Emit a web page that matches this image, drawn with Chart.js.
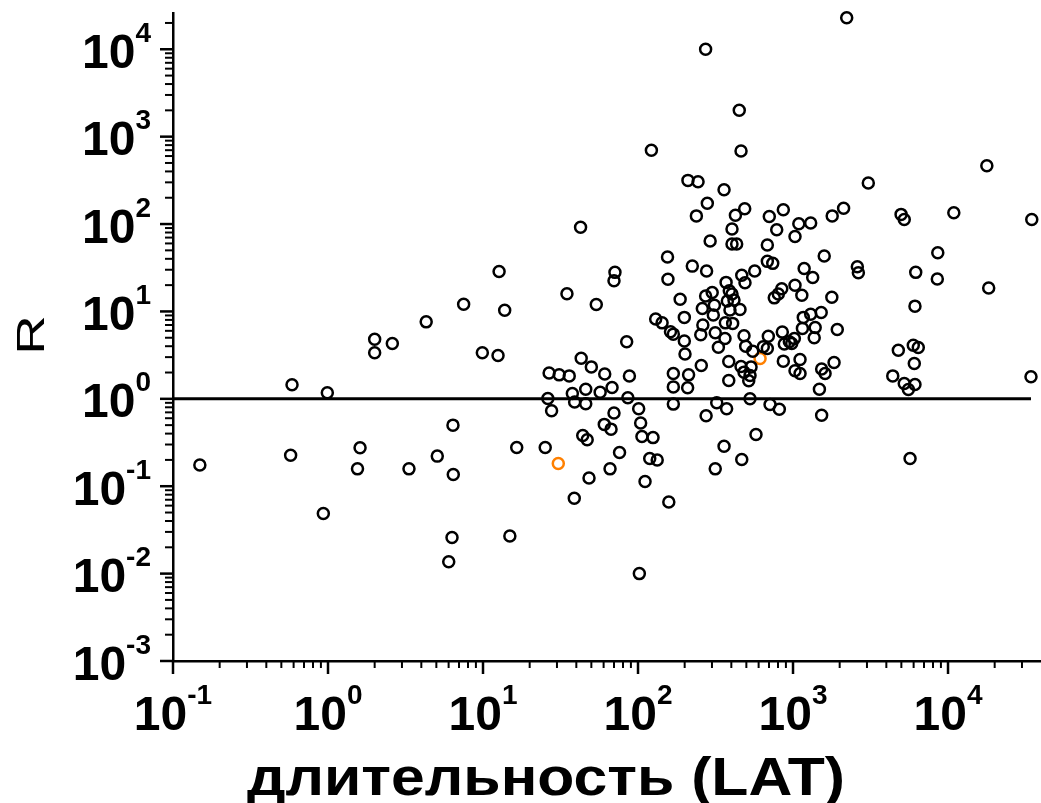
<!DOCTYPE html>
<html>
<head>
<meta charset="utf-8">
<script src="https://cdn.jsdelivr.net/npm/chart.js@4"></script>
<style>
  html, body { margin: 0; padding: 0; background: #fff; }
</style>
</head>
<body>
<canvas id="chart" width="1041" height="803"></canvas>
<script>
// [LAT, R] pairs
const blackPoints = [
  [273,10000],[450,2000],[122,700],[462,685],[210,316],[244,305],[359,247],[280,173],
  [238,124],[425,126],[488,150],[404,88],[42.6,92],[2220,23000],[17800,465],[3060,295],
  [703,122],[866,146],[785,86],[1090,101],[1300,103],[1790,124],[2120,152],[4980,129],
  [5220,113],[10900,135],[34700,113],
  [292,64],[404,59],[433,59],[12.7,28.7],[155,42],[224,33],[277,29],[71,28],[70,22.4],
  [156,23.3],[467,26],[490,21.3],[566,29],[7.5,12.1],[13.8,10.3],[34.8,15.9],[53.8,12],
  [187,13.8],[199,8.55],[130,8.2],[143,7.4],[162,5.85],[169,5.5],[199,4.6],[201,3.25],
  [84.5,4.5],[9.9,3.36],[12.5,3.14],[260,10.8],[273,15],[301,16.5],[311,11.8],[306,9.1],
  [370,21.5],[388,17.2],[404,15.8],[416,13.5],[377,13.2],[392,10.4],[455,10.5],[366,7.4],
  [408,7.3],[262,7.0],[254,5.4],[315,5.7],[364,4.9],[330,3.9],[483,5.26],[495,4.0],
  [550,3.5],[385,2.68],[462,2.35],[483,2.02],[536,2.32],[518,1.61],[528,1.85],[385,1.62],
  [256,2.41],[169,1.95],[212,1.88],[169,1.37],[209,1.34],[88,1.82],[61,1.92],[68,1.35],
  [57,1.19],[46,1.29],[43,2.92],[50,2.32],[26.7,1.97],[31,1.88],[36,1.83],[37.7,1.15],
  [39,0.92],[46,0.88],[26.2,1.01],[27.7,0.73],[70,0.69],[86,1.03],[101,0.77],[104,0.53],
  [106,0.37],[125,0.36],[60.6,0.51],[67,0.45],[44,0.38],[47,0.34],[169,0.87],[322,0.9],
  [373,0.77],[275,0.64],[528,1.0],[577,0.39],
  [4.3,7.6],[2.0,4.8],[2.0,3.36],[2.6,4.3],[0.586,1.45],[0.99,1.17],[6.4,0.5],
  [1030,72],[683,57.5],[1590,43],[683,37.4],[740,35.5],[1180,31],[1340,24.5],[2600,32.4],
  [2640,27.7],[8590,47],[6190,28],[8530,23.5],[18300,18.5],[1030,19.9],[846,18.2],[804,15.8],
  [757,14.3],[1140,15.3],[1780,14.5],[6120,11.5],[1165,8.55],[1300,9.3],[1520,9.75],[1150,6.4],
  [1390,6.56],[1370,5.0],[1930,6.2],[693,5.2],[853,5.8],[879,4.23],[947,4.5],[1020,4.9],
  [981,4.3],[643,3.94],[683,3.77],[866,2.7],[1110,2.82],[1030,2.09],[1110,1.95],[1530,2.2],
  [1610,1.95],[1840,2.61],[1480,1.29],[711,0.86],[816,0.76],[1530,0.65],[4780,3.6],[5970,4.1],
  [6430,3.87],[6060,2.54],[4400,1.83],[5220,1.5],[5550,1.28],[6120,1.46],[34300,1.79],
  [0.149,0.175],[0.574,0.226],[1.61,0.275],[1.55,0.158],[0.933,0.0488],[3.33,0.158],
  [5.07,0.221],[6.43,0.136],[6.31,0.0259],[6.01,0.0137],
  [16.5,0.277],[25.2,0.277],[48.3,0.124],[38.8,0.073],[66,0.158],[76,0.243],[119,0.208],
  [133,0.199],[111,0.113],[158,0.066],[14.9,0.027],[102,0.0100],[359,0.287],[315,0.158],
  [467,0.202],[5690,0.208]
];
const orangePoints = [[613,2.9],[30.6,0.182]];
const refLine = [[0.1,1],[34300,1]];

const xTickExps = [-1, 0, 1, 2, 3, 4];
const yTickExps = [-3, -2, -1, 0, 1, 2, 3, 4];
const xTitle = 'длительность (LAT)';
const yTitle = 'R';

const FONT = '"Liberation Sans", Arial, sans-serif';
const toXY = arr => arr.map(([x, y]) => ({x, y}));

function drawPower(ctx, exp, px, baseline, align) {
  ctx.font = 'bold 48px ' + FONT;
  const wb = ctx.measureText('10').width;
  ctx.font = 'bold 28px ' + FONT;
  const we = ctx.measureText(String(exp)).width;
  const left = align === 'right' ? px - wb - we : px - (wb + we) / 2;
  ctx.font = 'bold 48px ' + FONT;
  ctx.fillText('10', left, baseline);
  ctx.font = 'bold 28px ' + FONT;
  ctx.fillText(String(exp), left + wb, baseline - 26);
}

const axisDecor = {
  id: 'axisDecor',
  afterDraw(chart) {
    const {ctx, chartArea: a, scales: {x, y}} = chart;
    ctx.save();
    ctx.strokeStyle = '#000';
    ctx.fillStyle = '#000';
    ctx.textAlign = 'left';
    ctx.textBaseline = 'alphabetic';

    // y ticks, pointing out
    yTickExps.forEach(e => {
      for (let k = 1; k <= 9; k++) {
        const v = k * Math.pow(10, e);
        if (v > y.max) break;
        const py = y.getPixelForValue(v);
        const len = k === 1 ? 13 : 8;
        ctx.lineWidth = k === 1 ? 2.5 : 2;
        ctx.beginPath(); ctx.moveTo(a.left - len, py); ctx.lineTo(a.left, py); ctx.stroke();
      }
      drawPower(ctx, e, 151, y.getPixelForValue(Math.pow(10, e)) + 18.5, 'right');
    });

    // x ticks
    xTickExps.forEach(e => {
      for (let k = 1; k <= 9; k++) {
        const v = k * Math.pow(10, e);
        if (v > x.max) break;
        const px = x.getPixelForValue(v);
        const len = k === 1 ? 13 : 7;
        ctx.lineWidth = k === 1 ? 2.5 : 2;
        ctx.beginPath(); ctx.moveTo(px, a.bottom); ctx.lineTo(px, a.bottom + len); ctx.stroke();
      }
      drawPower(ctx, e, x.getPixelForValue(Math.pow(10, e)), 730, 'center');
    });

    // x title
    ctx.font = 'bold 54px ' + FONT;
    const tw = ctx.measureText(xTitle).width;
    ctx.save();
    ctx.translate(546, 795);
    ctx.scale(598 / tw, 1);
    ctx.textAlign = 'center';
    ctx.fillText(xTitle, 0, 0);
    ctx.restore();

    // y title
    ctx.save();
    ctx.font = '39px ' + FONT;
    ctx.translate(30, 335);
    ctx.rotate(-Math.PI / 2);
    ctx.scale(1.4, 1);
    ctx.textAlign = 'center';
    ctx.fillText(yTitle, 0, 14);
    ctx.restore();

    ctx.restore();
  }
};

new Chart(document.getElementById('chart'), {
  type: 'scatter',
  data: {
    datasets: [
      { data: toXY(blackPoints), borderColor: '#000', backgroundColor: 'rgba(0,0,0,0)',
        pointRadius: 5.5, borderWidth: 2.5, order: 1, clip: false },
      { data: toXY(orangePoints), borderColor: '#ff8000', backgroundColor: 'rgba(0,0,0,0)',
        pointRadius: 5.5, borderWidth: 2.5, order: 2, clip: false },
      { type: 'line', data: toXY(refLine), borderColor: '#000', borderWidth: 3,
        pointRadius: 0, order: 3 }
    ]
  },
  options: {
    animation: false, responsive: false, maintainAspectRatio: false,
    layout: { autoPadding: false, padding: { top: 13, right: 0, left: 0, bottom: 0 } },
    plugins: { legend: { display: false }, tooltip: { enabled: false } },
    scales: {
      x: { type: 'logarithmic', min: 0.1, max: 39800,
        ticks: { display: false }, grid: { display: false },
        border: { display: true, color: '#000', width: 2.5 },
        afterFit: s => { s.height = 142; } },
      y: { type: 'logarithmic', min: 0.001, max: 26000,
        ticks: { display: false }, grid: { display: false },
        border: { display: true, color: '#000', width: 2.5 },
        afterFit: s => { s.width = 173; } }
    }
  },
  plugins: [axisDecor]
});
</script>
</body>
</html>
